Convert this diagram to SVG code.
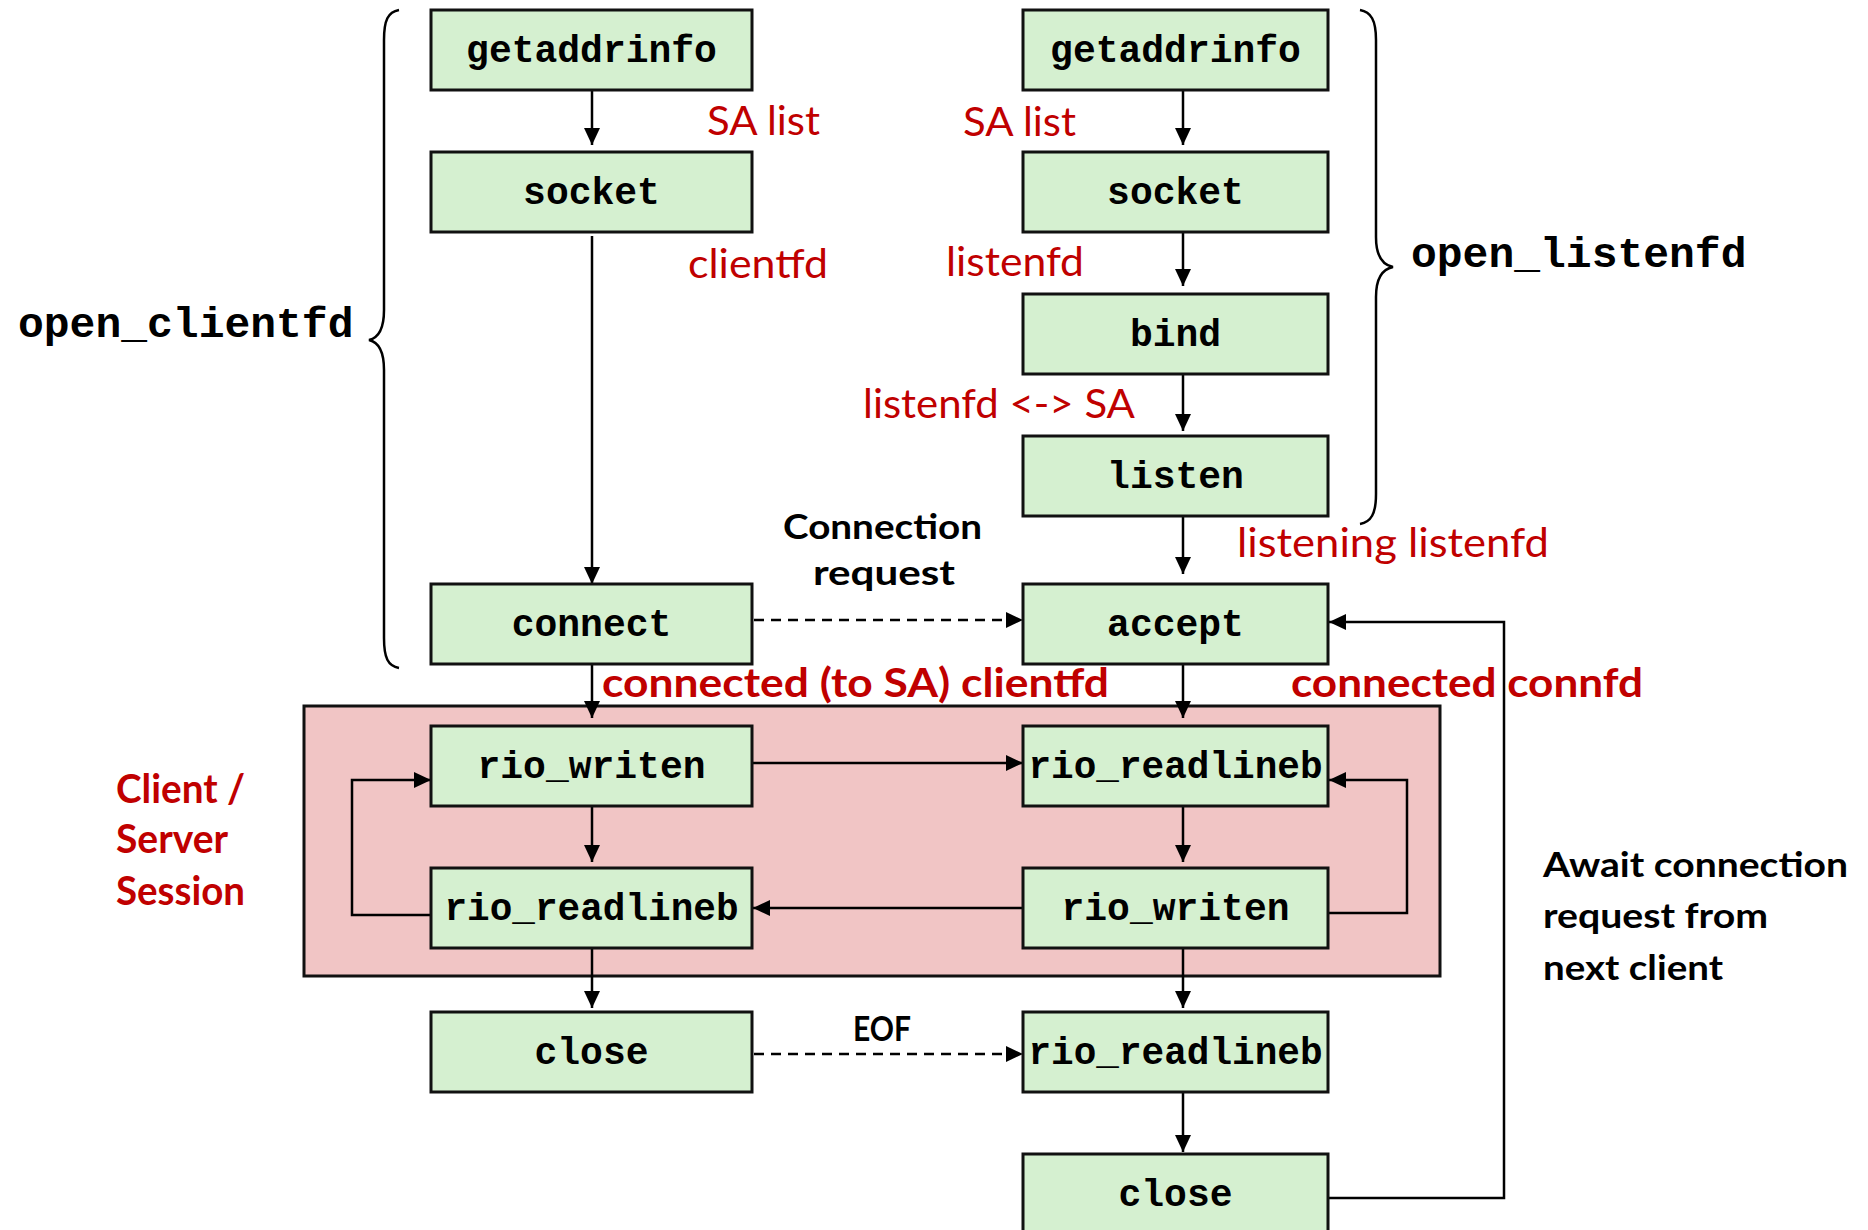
<svg xmlns="http://www.w3.org/2000/svg" width="1868" height="1230" viewBox="0 0 1868 1230">
  <defs>
    <marker id="ah" markerUnits="userSpaceOnUse" markerWidth="18" markerHeight="16" refX="17" refY="8" orient="auto">
      <path d="M0,0 L17,8 L0,16 z" fill="#000"/>
    </marker>
    <style>
      .box { fill: #d5f0d0; stroke: #111; stroke-width: 3; }
      .bt { font-family: "Liberation Mono", "DejaVu Sans Mono", monospace; font-weight: bold; font-size: 38px; fill: #000; text-anchor: middle; }
      .side { font-family: "Liberation Mono", "DejaVu Sans Mono", monospace; font-weight: bold; font-size: 43px; fill: #000; }
      .red { font-family: Lato, "Liberation Sans", sans-serif; font-size: 41px; fill: #c00000; }
      .redb { font-family: Lato, "Liberation Sans", sans-serif; font-size: 41px; font-weight: bold; fill: #c00000; }
      .blk { font-family: Lato, "Liberation Sans", sans-serif; font-size: 35px; font-weight: bold; fill: #000; }
      .ln { fill: none; stroke: #000; stroke-width: 2.5; }
      .dash { fill: none; stroke: #000; stroke-width: 2.5; stroke-dasharray: 10 7; }
      .brace { fill: none; stroke: #000; stroke-width: 2.5; }
    </style>
  </defs>
  <rect width="1868" height="1230" fill="#fff"/>

  <g id="session">
    <rect x="304" y="706" width="1136" height="270" fill="#f1c5c5" stroke="#111" stroke-width="3"/>
    <text class="redb" x="116" y="803" textLength="129" lengthAdjust="spacingAndGlyphs">Client /</text>
    <text class="redb" x="116" y="853" textLength="112" lengthAdjust="spacingAndGlyphs">Server</text>
    <text class="redb" x="116" y="905" textLength="129" lengthAdjust="spacingAndGlyphs">Session</text>
  </g>

  <g id="braces">
    <path class="brace" d="M399,10 C388,12 384,20 384,40 V310 C384,330 378,338 369,340 C378,342 384,350 384,370 V638 C384,658 388,666 399,668"/>
    <path class="brace" d="M1360,10 C1371,12 1376,20 1376,40 V237 C1376,257 1383,265 1393,267 C1383,269 1376,277 1376,297 V494 C1376,514 1371,522 1360,524"/>
    <text class="side" x="18" y="337">open_clientfd</text>
    <text class="side" x="1411" y="267">open_listenfd</text>
  </g>

  <g id="connectors">
    <line class="ln" x1="592" y1="90" x2="592" y2="145" marker-end="url(#ah)"/>
    <line class="ln" x1="592" y1="236" x2="592" y2="584" marker-end="url(#ah)"/>
    <line class="ln" x1="592" y1="664" x2="592" y2="718" marker-end="url(#ah)"/>
    <line class="ln" x1="592" y1="806" x2="592" y2="862" marker-end="url(#ah)"/>
    <line class="ln" x1="592" y1="948" x2="592" y2="1008" marker-end="url(#ah)"/>

    <line class="ln" x1="1183" y1="90" x2="1183" y2="145" marker-end="url(#ah)"/>
    <line class="ln" x1="1183" y1="232" x2="1183" y2="286" marker-end="url(#ah)"/>
    <line class="ln" x1="1183" y1="374" x2="1183" y2="431" marker-end="url(#ah)"/>
    <line class="ln" x1="1183" y1="516" x2="1183" y2="574" marker-end="url(#ah)"/>
    <line class="ln" x1="1183" y1="664" x2="1183" y2="718" marker-end="url(#ah)"/>
    <line class="ln" x1="1183" y1="806" x2="1183" y2="862" marker-end="url(#ah)"/>
    <line class="ln" x1="1183" y1="948" x2="1183" y2="1008" marker-end="url(#ah)"/>
    <line class="ln" x1="1183" y1="1092" x2="1183" y2="1152" marker-end="url(#ah)"/>

    <line class="dash" x1="754" y1="620" x2="1023" y2="620" marker-end="url(#ah)"/>
    <line class="ln" x1="752" y1="763" x2="1023" y2="763" marker-end="url(#ah)"/>
    <line class="ln" x1="1023" y1="908" x2="753" y2="908" marker-end="url(#ah)"/>
    <line class="dash" x1="754" y1="1054" x2="1023" y2="1054" marker-end="url(#ah)"/>

    <path class="ln" d="M431,915 H352 V780 H431" marker-end="url(#ah)"/>
    <path class="ln" d="M1328,913 H1407 V780 H1329" marker-end="url(#ah)"/>
    <path class="ln" d="M1328,1198 H1504 V622 H1329" marker-end="url(#ah)"/>
  </g>

  <g id="labels">
    <text class="red" x="707" y="135" textLength="113" lengthAdjust="spacingAndGlyphs">SA list</text>
    <text class="red" x="963" y="136" textLength="113" lengthAdjust="spacingAndGlyphs">SA list</text>
    <text class="red" x="688" y="278" textLength="140" lengthAdjust="spacingAndGlyphs">clientfd</text>
    <text class="red" x="946" y="276" textLength="138" lengthAdjust="spacingAndGlyphs">listenfd</text>
    <text class="red" x="863" y="418" textLength="272" lengthAdjust="spacingAndGlyphs">listenfd &lt;-&gt; SA</text>
    <text class="red" x="1237" y="557" textLength="312" lengthAdjust="spacingAndGlyphs">listening listenfd</text>
    <text class="redb" x="602" y="697" textLength="507" lengthAdjust="spacingAndGlyphs">connected (to SA) clientfd</text>
    <text class="redb" x="1291" y="697" textLength="352" lengthAdjust="spacingAndGlyphs">connected connfd</text>
    <text class="blk" x="783" y="539" textLength="199" lengthAdjust="spacingAndGlyphs">Connection</text>
    <text class="blk" x="813" y="585" textLength="142" lengthAdjust="spacingAndGlyphs">request</text>
    <text class="blk" x="853" y="1041" font-size="32" textLength="58" lengthAdjust="spacingAndGlyphs">EOF</text>
    <text class="blk" x="1543" y="877" textLength="305" lengthAdjust="spacingAndGlyphs">Await connection</text>
    <text class="blk" x="1543" y="928" textLength="225" lengthAdjust="spacingAndGlyphs">request from</text>
    <text class="blk" x="1543" y="980" textLength="180" lengthAdjust="spacingAndGlyphs">next client</text>
  </g>

  <g id="c_getaddrinfo"><rect class="box" x="431" y="10" width="321" height="80"/><text class="bt" x="591.5" y="62">getaddrinfo</text></g>
  <g id="c_socket"><rect class="box" x="431" y="152" width="321" height="80"/><text class="bt" x="591.5" y="204">socket</text></g>
  <g id="c_connect"><rect class="box" x="431" y="584" width="321" height="80"/><text class="bt" x="591.5" y="636">connect</text></g>
  <g id="c_rio_writen"><rect class="box" x="431" y="726" width="321" height="80"/><text class="bt" x="591.5" y="778">rio_writen</text></g>
  <g id="c_rio_readlineb"><rect class="box" x="431" y="868" width="321" height="80"/><text class="bt" x="591.5" y="920" textLength="294" lengthAdjust="spacingAndGlyphs">rio_readlineb</text></g>
  <g id="c_close"><rect class="box" x="431" y="1012" width="321" height="80"/><text class="bt" x="591.5" y="1064">close</text></g>

  <g id="s_getaddrinfo"><rect class="box" x="1023" y="10" width="305" height="80"/><text class="bt" x="1175.5" y="62">getaddrinfo</text></g>
  <g id="s_socket"><rect class="box" x="1023" y="152" width="305" height="80"/><text class="bt" x="1175.5" y="204">socket</text></g>
  <g id="s_bind"><rect class="box" x="1023" y="294" width="305" height="80"/><text class="bt" x="1175.5" y="346">bind</text></g>
  <g id="s_listen"><rect class="box" x="1023" y="436" width="305" height="80"/><text class="bt" x="1175.5" y="488">listen</text></g>
  <g id="s_accept"><rect class="box" x="1023" y="584" width="305" height="80"/><text class="bt" x="1175.5" y="636">accept</text></g>
  <g id="s_rio_readlineb1"><rect class="box" x="1023" y="726" width="305" height="80"/><text class="bt" x="1175.5" y="778" textLength="294" lengthAdjust="spacingAndGlyphs">rio_readlineb</text></g>
  <g id="s_rio_writen"><rect class="box" x="1023" y="868" width="305" height="80"/><text class="bt" x="1175.5" y="920">rio_writen</text></g>
  <g id="s_rio_readlineb2"><rect class="box" x="1023" y="1012" width="305" height="80"/><text class="bt" x="1175.5" y="1064" textLength="294" lengthAdjust="spacingAndGlyphs">rio_readlineb</text></g>
  <g id="s_close"><rect class="box" x="1023" y="1154" width="305" height="80"/><text class="bt" x="1175.5" y="1206">close</text></g>
</svg>
